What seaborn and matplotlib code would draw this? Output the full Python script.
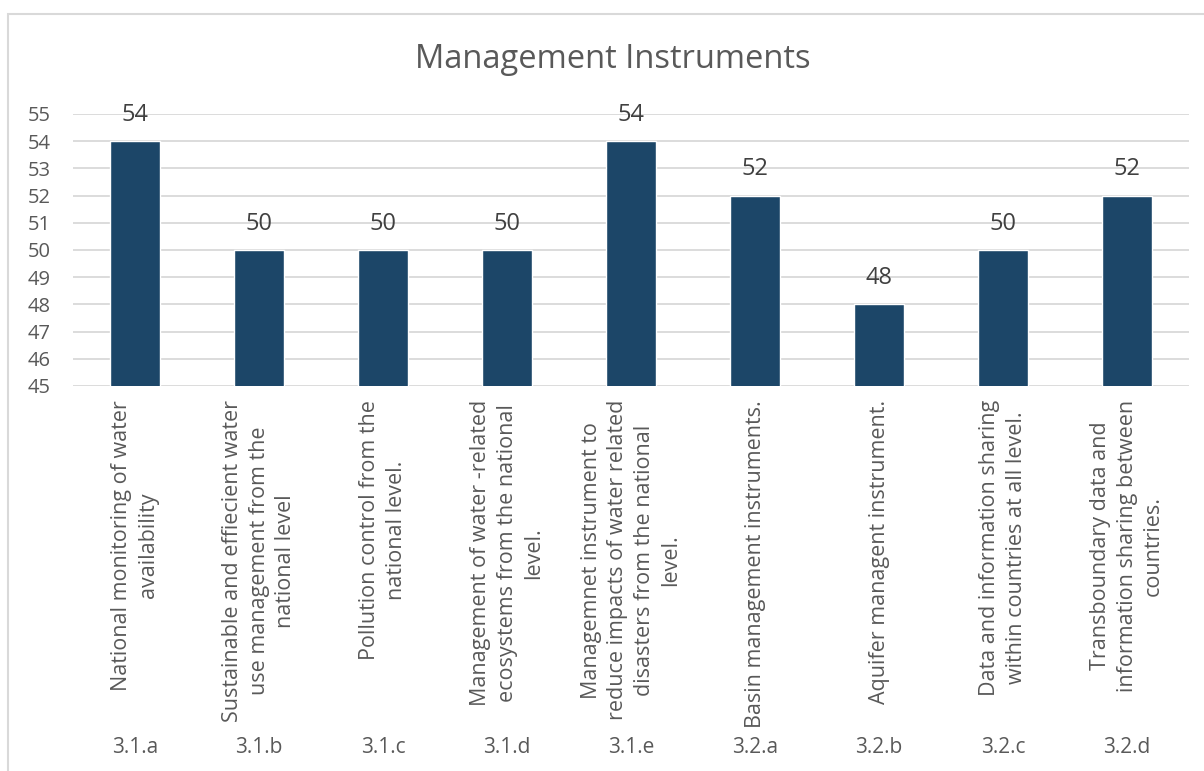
import matplotlib
matplotlib.use("Agg")
import matplotlib.pyplot as plt
import seaborn as sns
from matplotlib.patches import Rectangle

codes = ["3.1.a", "3.1.b", "3.1.c", "3.1.d", "3.1.e", "3.2.a", "3.2.b", "3.2.c", "3.2.d"]
labels = [
    "National monitoring of water\navailability",
    "Sustainable and effiecient water\nuse management from the\nnational level",
    "Pollution control from the\nnational level.",
    "Management of water -related\necosystems from the national\nlevel.",
    "Managemnet instrument to\nreduce impacts of water related\ndisasters from the national\nlevel.",
    "Basin management instruments.",
    "Aquifer managent instrument.",
    "Data and information sharing\nwithin countries at all level.",
    "Transboundary data and\ninformation sharing between\ncountries.",
]
values = [54, 50, 50, 50, 54, 52, 48, 50, 52]

sns.set_style("white")
plt.rcParams["font.family"] = ["Open Sans", "DejaVu Sans"]
text_color = "#595959"
bar_color = "#1c4668"
grid_color = "#d9d9d9"

fig = plt.figure(figsize=(12.04, 7.71), dpi=100)
ax = fig.add_axes([73 / 1204, 1 - 386 / 771, 1116 / 1204, 272 / 771])

sns.barplot(x=list(range(len(codes))), y=values, color=bar_color, width=0.4,
            saturation=1, ax=ax, zorder=3)
ax.set_ylim(45, 55)
ax.set_yticks(range(45, 56))
ax.yaxis.grid(True, color=grid_color, linewidth=1.3, zorder=0)
ax.set_axisbelow(True)
sns.despine(ax=ax, left=True, bottom=True, top=True, right=True)

ax.set_xticks(range(len(codes)))
ax.set_xticklabels(labels, rotation=90, ha="center", va="top",
                   multialignment="center", fontsize=15.5, color=text_color,
                   linespacing=1.35)
ax.tick_params(axis="x", length=0, pad=10)
ax.tick_params(axis="y", length=0, pad=16, labelsize=14.5, labelcolor=text_color)
ax.set_xlabel("")
ax.set_ylabel("")

for i, v in enumerate(values):
    ax.annotate(str(v), (i, v), xytext=(0, 19), textcoords="offset points",
                ha="center", va="center", fontsize=17, color="#404040")

for i, c in enumerate(codes):
    ax.text(i, -1.33, c, transform=ax.get_xaxis_transform(), ha="center",
            va="center", fontsize=15, color=text_color)

fig.text(613 / 1204, 1 - 60 / 771, "Management Instruments", ha="center",
         va="center", fontsize=23.5, color=text_color)

fig.patches.append(Rectangle((8 / 1204, -0.1), 1.2, 1.1 - 14 / 771,
                             transform=fig.transFigure, fill=False,
                             edgecolor=grid_color, linewidth=1.5))

fig.savefig("out.png", dpi=100)
